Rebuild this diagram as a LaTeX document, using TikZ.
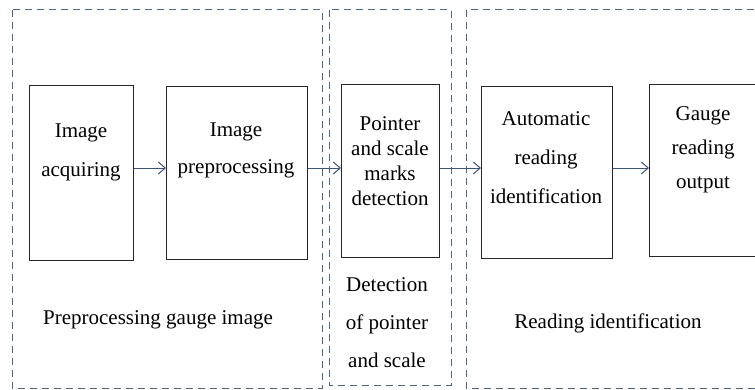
\documentclass[tikz,border=0pt]{standalone}
\usepackage{fontspec}
\setmainfont{Liberation Serif}
\usetikzlibrary{arrows.meta,
                positioning}

\definecolor{groupblue}{HTML}{4D6482}
\definecolor{flowblue}{HTML}{3D5575}

\begin{document}
\begin{tikzpicture}[x=0.5pt, y=-0.5pt,
                    stage/.style={draw=black!85, line width=0.6pt, rectangle, anchor=north west, inner sep=0},
                    group/.style={draw=groupblue, line width=0.5pt, dash pattern=on 3.5pt off 2.5pt},
                    stagetext/.style={align=center, inner sep=0, font=\fontsize{10.5}{#1}\selectfont},
                    grouplabel/.style={align=center, inner sep=0, font=\fontsize{10.5}{19}\selectfont},
                    flow/.style={-{Straight Barb[length=3.5pt, width=6pt]}, line width=0.5pt, flowblue}
                    ]
    \useasboundingbox (0,0) rectangle (755,390);
    \clip (0,0) rectangle (755,390);

    % dashed groups
    \draw[group] (12,10)  rectangle (322,388);
    \draw[group] (329,10) rectangle (451,385);
    \draw[group] (466,10) rectangle (760,388);

    % stage boxes
    \node[stage, minimum width=52pt,   minimum height=87.5pt] at (29,85)  (acq){};
    \node[stage, minimum width=70.5pt, minimum height=86.5pt] at (166,86) (pre){};
    \node[stage, minimum width=49pt,   minimum height=86.5pt] at (341,84) (det){};
    \node[stage, minimum width=65.5pt, minimum height=86pt]   at (481,86) (auto){};
    \node[stage, minimum width=55.5pt, minimum height=86pt]   at (649,84) (out){};

    % stage texts
    \node[stagetext=19.5] at (81,152)  (acqtext)  {Image\\acquiring};
    \node[stagetext=18.5] at (236,150) (pretext)  {Image\\preprocessing};
    \node[stagetext=12.5] at (390,161) (dettext)  {Pointer\\and scale\\marks\\detection};
    \node[stagetext=19.5] at (546,158) (autotext) {Automatic\\reading\\identification};
    \node[stagetext=17]   at (703,150) (outtext)  {Gauge\\reading\\output};

    % group labels
    \node[grouplabel] at (158,320) (prelabel)  {Preprocessing gauge image};
    \node[grouplabel] at (387,323) (detlabel)  {Detection\\of pointer\\and scale};
    \node[grouplabel] at (608,323) (readlabel) {Reading identification};

    % flow arrows
    \draw[flow] (acq.east |- 0,168)  -- (pre.west |- 0,168);
    \draw[flow] (pre.east |- 0,168)  -- (det.west |- 0,168);
    \draw[flow] (det.east |- 0,168)  -- (auto.west |- 0,168);
    \draw[flow] (auto.east |- 0,168) -- (out.west |- 0,168);

\end{tikzpicture}
\end{document}
